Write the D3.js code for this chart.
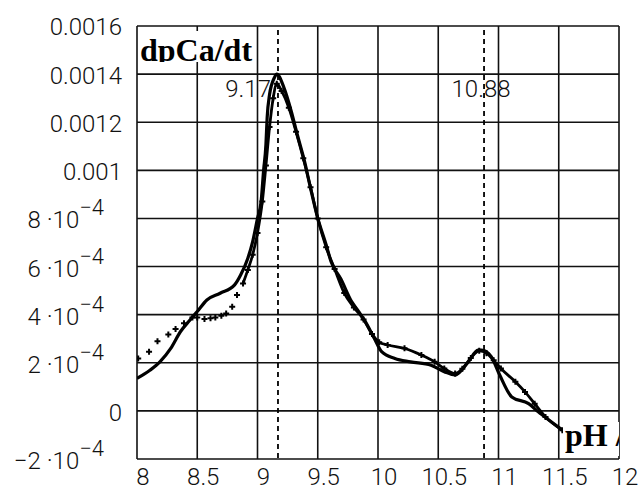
<!DOCTYPE html>
<html>
<head>
<meta charset="utf-8">
<script src="https://d3js.org/d3.v7.min.js"></script>
<style>
  body { margin: 0; background: #fff; }
  svg { display: block; }
  .tick { font-family: Roboto, "Liberation Sans", Arial, sans-serif; font-weight: 300; font-size: 24px; fill: #111; }
  .lab { font-family: "Liberation Serif", "Times New Roman", serif; font-weight: bold; font-size: 32px; fill: #000; }
</style>
</head>
<body>
<script>
// axis ticks
const xTicks = [8, 8.5, 9, 9.5, 10, 10.5, 11, 11.5, 12];
const yTicks = [-0.0002, 0, 0.0002, 0.0004, 0.0006, 0.0008, 0.001, 0.0012, 0.0014, 0.0016];
const yTickLabels = ["−2 ·10^−4", "0", "2 ·10^−4", "4 ·10^−4", "6 ·10^−4", "8 ·10^−4",
                     "0.001", "0.0012", "0.0014", "0.0016"];

// measured curve (solid), dpCa/dt in units of 1e-4
const phA = [8.00, 8.11, 8.19, 8.28, 8.36, 8.44, 8.50, 8.58, 8.69, 8.81, 8.86, 8.92, 8.96,
             9.00, 9.03, 9.05, 9.07, 9.08, 9.10, 9.14, 9.16, 9.22, 9.28, 9.33, 9.39, 9.44,
             9.50, 9.57, 9.61, 9.69, 9.78, 9.84, 9.89, 9.97, 10.03, 10.14, 10.27, 10.44,
             10.55, 10.64, 10.75, 10.83, 10.86, 10.94, 11.01, 11.11, 11.25, 11.33, 11.44, 11.53];
const rateA = [1.35, 1.70, 2.04, 2.60, 3.29, 3.78, 4.13, 4.61, 4.89, 5.24, 5.65, 6.35, 7.04,
               8.0, 8.71, 9.96, 11.08, 12.18, 13.15, 13.85, 14.0, 13.43, 12.46, 11.49, 10.38, 9.26,
               8.01, 6.9, 6.21, 5.5, 4.55, 4.13, 3.75, 3.01, 2.46, 2.18, 2.04, 1.90,
               1.63, 1.49, 2.04, 2.53, 2.53, 2.25, 1.49, 0.58, 0.30, -0.04, -0.46, -0.80];

// second curve (crosses)
const phB = [8.01, 8.10, 8.17, 8.26, 8.32, 8.39, 8.46, 8.50, 8.56, 8.61, 8.65, 8.70, 8.74, 8.79,
             8.83, 8.88, 8.92, 8.96, 9.00, 9.04, 9.07, 9.10, 9.13, 9.16, 9.20, 9.26, 9.32,
             9.38, 9.44, 9.50, 9.57, 9.64, 9.72, 9.80, 9.88, 9.95, 10.01, 10.08, 10.22, 10.36,
             10.47, 10.55, 10.64, 10.70, 10.77, 10.84, 10.90, 10.96, 11.02, 11.14, 11.22, 11.30,
             11.39, 11.53];
const rateB = [2.18, 2.46, 2.90, 3.18, 3.40, 3.64, 3.88, 3.88, 3.82, 3.85, 3.88, 3.95, 4.05, 4.33,
               4.82, 5.30, 5.86, 6.49, 7.4, 8.7, 10.2, 11.8, 13.0, 13.6, 13.3, 12.6, 11.6,
               10.5, 9.3, 8.0, 6.8, 5.9, 4.9, 4.3, 3.8, 3.2, 2.85, 2.74, 2.60, 2.32,
               2.04, 1.76, 1.55, 1.75, 2.2, 2.5, 2.4, 2.1, 1.76, 1.21, 0.79, 0.30,
               -0.25, -0.80];

// peak markers
const peaks = [9.17, 10.88];
const peakLabels = ["9.17", "10.88"];

const svg = d3.select("body").append("svg")
    .attr("width", 640)
    .attr("height", 490);

const x = d3.scaleLinear().domain([8, 12]).range([137, 619]);
const y = d3.scaleLinear().domain([-0.0002, 0.0016]).range([459, 26]);

svg.append("defs").append("clipPath").attr("id", "plot")
    .append("rect")
    .attr("x", x(8)).attr("y", y(0.0016))
    .attr("width", x(12) - x(8)).attr("height", y(-0.0002) - y(0.0016));

// grid
const grid = svg.append("g").attr("stroke", "#111").attr("stroke-width", 1.6);
grid.selectAll("line.v").data(xTicks).join("line")
    .attr("x1", d => x(d)).attr("x2", d => x(d))
    .attr("y1", y(0.0016)).attr("y2", y(-0.0002));
grid.selectAll("line.h").data(yTicks).join("line")
    .attr("class", "h")
    .attr("x1", x(8)).attr("x2", x(12))
    .attr("y1", d => y(d)).attr("y2", d => y(d));

// x tick labels
svg.append("g").selectAll("text").data(xTicks).join("text")
    .attr("class", "tick")
    .attr("x", d => x(d) + 6)
    .attr("y", 485)
    .attr("text-anchor", "middle")
    .text(d => d);

// y tick labels, with superscript exponents
const yl = svg.append("g").selectAll("text").data(yTicks).join("text")
    .attr("class", "tick")
    .attr("y", d => y(d) + 10)
    .attr("text-anchor", "end");
yl.each(function(d, i) {
    const t = d3.select(this);
    const parts = yTickLabels[i].split("^");
    if (parts.length === 1) {
        t.attr("x", 122).text(parts[0]);
    } else {
        t.attr("x", 104);
        t.append("tspan").text(parts[0]);
        t.append("tspan").attr("dy", -13).style("font-size", "22px").text(parts[1]);
    }
});
yl.filter(d => d === 0.0016).attr("y", d => y(d) + 9);

// peak lines and their labels
svg.append("g").selectAll("line").data(peaks).join("line")
    .attr("x1", d => x(d)).attr("x2", d => x(d))
    .attr("y1", y(0.0016) + 4).attr("y2", y(-0.0002))
    .attr("stroke", "#000").attr("stroke-width", 1.8)
    .attr("stroke-dasharray", "5,4");

svg.append("g").selectAll("text").data(peaks).join("text")
    .attr("class", "tick")
    .attr("x", (d, i) => i === 0 ? x(d) - 7 : x(d) - 3)
    .attr("y", 97)
    .attr("text-anchor", (d, i) => i === 0 ? "end" : "middle")
    .text((d, i) => peakLabels[i]);

// curves
const plot = svg.append("g").attr("clip-path", "url(#plot)");
const ptsA = phA.map((p, i) => [p, rateA[i] * 1e-4]);
const ptsB = phB.map((p, i) => [p, rateB[i] * 1e-4]);

const line = d3.line()
    .x(d => x(d[0]))
    .y(d => y(d[1]))
    .curve(d3.curveMonotoneX);

plot.append("path")
    .datum(ptsB.filter(d => d[0] >= 8.88))
    .attr("fill", "none")
    .attr("stroke", "#000")
    .attr("stroke-width", 2.8)
    .attr("d", line);

plot.selectAll("path.cross").data(ptsB).join("path")
    .attr("class", "cross")
    .attr("d", d => {
        const cx = x(d[0]), cy = y(d[1]);
        return `M${cx - 3},${cy}H${cx + 3}M${cx},${cy - 3}V${cy + 3}`;
    })
    .attr("stroke", "#000")
    .attr("stroke-width", 2);

plot.append("path")
    .datum(ptsA)
    .attr("fill", "none")
    .attr("stroke", "#000")
    .attr("stroke-width", 3.2)
    .attr("d", line);

// axis titles in white boxes, clipped like the original regions
const defs = svg.select("defs");
defs.append("clipPath").attr("id", "yt").append("rect")
    .attr("x", x(8)).attr("y", 31).attr("width", 119).attr("height", 31);
defs.append("clipPath").attr("id", "xt").append("rect")
    .attr("x", 563).attr("y", 422).attr("width", 56).attr("height", 34);

svg.append("rect").attr("x", x(8) + 1).attr("y", 31).attr("width", 118).attr("height", 31)
    .attr("fill", "#fff");
svg.append("text").attr("class", "lab")
    .attr("clip-path", "url(#yt)")
    .attr("x", 140).attr("y", 61)
    .text("dpCa/dt");

svg.append("rect").attr("x", 563).attr("y", 422).attr("width", 56).attr("height", 34)
    .attr("fill", "#fff");
svg.append("text").attr("class", "lab")
    .attr("clip-path", "url(#xt)")
    .attr("x", 565).attr("y", 446)
    .text("pH /");
</script>
</body>
</html>
